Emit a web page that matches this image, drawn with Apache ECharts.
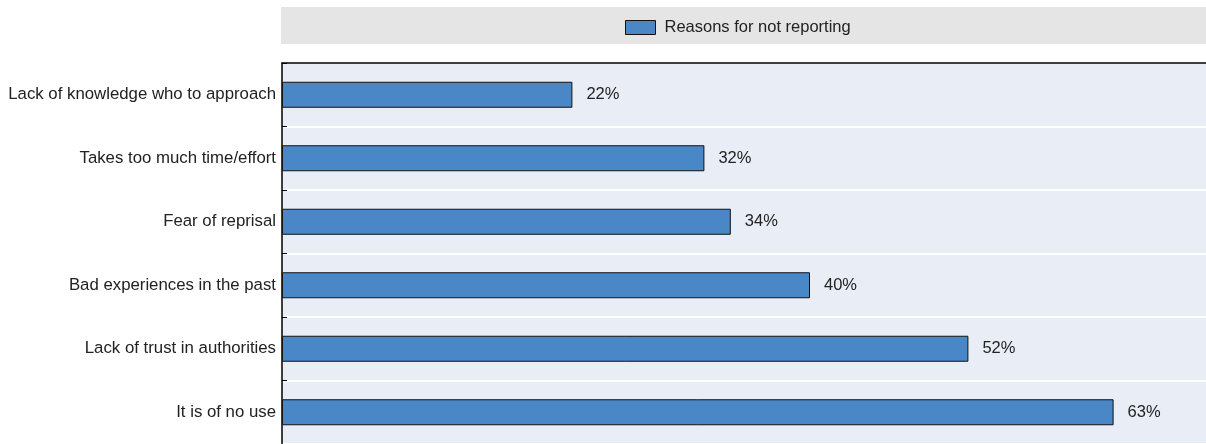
<!DOCTYPE html>
<html><head><meta charset="utf-8">
<script src="https://cdn.jsdelivr.net/npm/echarts@6/dist/echarts.min.js"></script>
<style>html,body{margin:0;padding:0;background:#fff}#c{width:1206px;height:444px}</style>
</head><body><div id="c"></div>
<script>
const categories = ["Lack of knowledge who to approach","Takes too much time/effort","Fear of reprisal","Bad experiences in the past","Lack of trust in authorities","It is of no use"];
const values = [22, 32, 34, 40, 52, 63];
const seriesName = "Reasons for not reporting";
const FONT = "'Liberation Sans', Arial, sans-serif";
const chart = echarts.init(document.getElementById('c'), null, {renderer:'canvas'});
chart.setOption({
  animation:false,
  graphic:[{type:'rect', shape:{x:281,y:7,width:925,height:37}, style:{fill:'#e5e5e5'}, z:-10}],
  legend:{show:true, left:620, top:14, itemWidth:30, itemHeight:14, icon:'rect',
    itemStyle:{borderColor:'#111', borderWidth:1},
    textStyle:{fontFamily:FONT, fontSize:16.5, color:'#222', padding:[0,0,0,4]}, data:[seriesName]},
  grid:{left:282, right:0, top:63, height:383, show:true, backgroundColor:'#e9edf6', borderWidth:0, containLabel:false},
  xAxis:{type:'value', position:'top', min:0, max:70, axisLine:{show:true, lineStyle:{color:'#000', width:1.5}},
    axisTick:{show:false}, axisLabel:{show:false}, splitLine:{show:false}},
  yAxis:{type:'category', inverse:true, data:categories,
    axisLine:{show:true, lineStyle:{color:'#000', width:1.5}},
    axisTick:{show:true, inside:true, length:5, lineStyle:{color:'#000'}},
    axisLabel:{fontFamily:FONT, fontSize:16.8, color:'#222', margin:6},
    splitLine:{show:true, lineStyle:{color:'#fff', width:2}}},
  series:[{type:'bar', name:seriesName, data:values, barWidth:26,
    itemStyle:{color:'#4a87c6', borderColor:'#111', borderWidth:1},
    label:{show:true, position:'right', distance:14, formatter:'{c}%', fontFamily:FONT, fontSize:16.5, color:'#222'}}]
});
</script></body></html>
